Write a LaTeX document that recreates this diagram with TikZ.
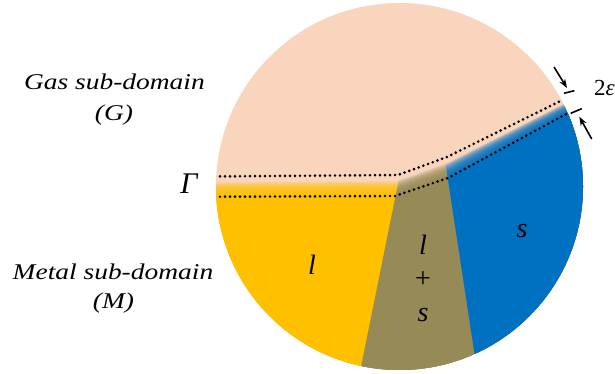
\documentclass[tikz,border=0pt]{standalone}
\usepackage{fontspec}
\setmainfont{Liberation Serif}
\newfontfamily\labfont{Liberation Serif}[FakeStretch=1.22]
\usetikzlibrary{calc,arrows.meta}
\definecolor{gasc}{RGB}{248,213,188}
\definecolor{liqc}{RGB}{255,192,0}
\definecolor{mushc}{RGB}{150,138,86}
\definecolor{solc}{RGB}{0,112,192}
\newcommand\fillsectors[1]{%
  \fill[liqc,opacity=#1] (150,-40) -- (150,250) -- (410.1,250) -- (351.5,-40) -- cycle;
  \fill[mushc,opacity=#1] (351.5,-40) -- (410.1,250) -- (439.5,250) -- (483.7,-40) -- cycle;
  \fill[solc,opacity=#1] (483.7,-40) -- (439.5,250) -- (439.5,420) -- (660,420) -- (660,-40) -- cycle;
}
\begin{document}
\begin{tikzpicture}[x=1pt,y=1pt,
  dotline/.style={line width=2.9pt, dash pattern=on 0pt off 5pt, line cap=round},
  lab/.style={font=\labfont\itshape\fontsize{22.5}{26}\selectfont},
  phase/.style={font=\itshape\fontsize{28}{32}\selectfont},
  dimline/.style={line width=1.6pt},
  dimarrow/.style={line width=1.6pt, -{Stealth[length=9pt,width=6.5pt]}}
]
\useasboundingbox (0,0) rectangle (615,374);
\coordinate (O) at (399.5,187.5);
\fill[gasc] (O) circle[radius=183.5];
\coordinate (La) at (150,177); \coordinate (Lb) at (395,178);
\coordinate (Lc) at (448,196); \coordinate (Ld) at (605,281);
\coordinate (Ua) at (150,197); \coordinate (Ub) at (398,199);
\coordinate (Uc) at (447,217); \coordinate (Ud) at (605,295);
\begin{scope}
  \clip (O) circle[radius=183.5];
  \clip (La) -- (Lb) -- (Lc) -- (Ld) -- (660,-40) -- (150,-40) -- cycle;
  \fillsectors{1}
\end{scope}
\foreach \i in {1,...,10} {
  \pgfmathsetmacro\t{0.07*\i}
  \begin{scope}
    \clip (O) circle[radius=183.5];
    \clip ($(La)!\t!(Ua)$) -- ($(Lb)!\t!(Ub)$) -- ($(Lc)!\t!(Uc)$) -- ($(Ld)!\t!(Ud)$) -- (660,-40) -- (150,-40) -- cycle;
    \fillsectors{0.25}
  \end{scope}
}
\begin{scope}
  \clip (O) circle[radius=183.5];
  \draw[dotline] (Ua) -- (Ub) -- (Uc) -- (Ud);
  \draw[dotline] (La) -- (Lb) -- (Lc) -- (Ld);
\end{scope}
% labels
\node[lab] (gas) at (114.5,292) {Gas sub-domain};
\node[lab] (gasG) at (114,259) {(G)};
\node[lab] (metal) at (113,102) {Metal sub-domain};
\node[lab] (metalM) at (113.5,71) {(M)};
\node[font=\itshape\fontsize{30}{34}\selectfont] (gamma) at (189,190) {Γ};
\node[phase] (liq) at (312,109) {l};
\node[phase] (mushl) at (423,129) {l};
\node[font=\fontsize{28}{32}\selectfont] (plus) at (423,94) {+};
\node[phase] (mushs) at (423,59) {s};
\node[phase] (sol) at (522,143) {s};
\node[font=\fontsize{23}{26}\selectfont, inner sep=0pt] (eps) at (604.5,286) {2\textit{ε}};
% thickness markers
\coordinate (a1s) at (554,307); \coordinate (a1e) at (567,286);
\coordinate (t1a) at (564,280.7); \coordinate (t1b) at (574.3,283.3);
\coordinate (t2a) at (570.7,260.7); \coordinate (t2b) at (581.7,265.3);
\coordinate (a2s) at (591.7,235); \coordinate (a2e) at (579.3,257.3);
\draw[dimarrow] (a1s) -- (a1e);
\draw[dimline] (t1a) -- (t1b);
\draw[dimline] (t2a) -- (t2b);
\draw[dimarrow] (a2s) -- (a2e);
\end{tikzpicture}
\end{document}
